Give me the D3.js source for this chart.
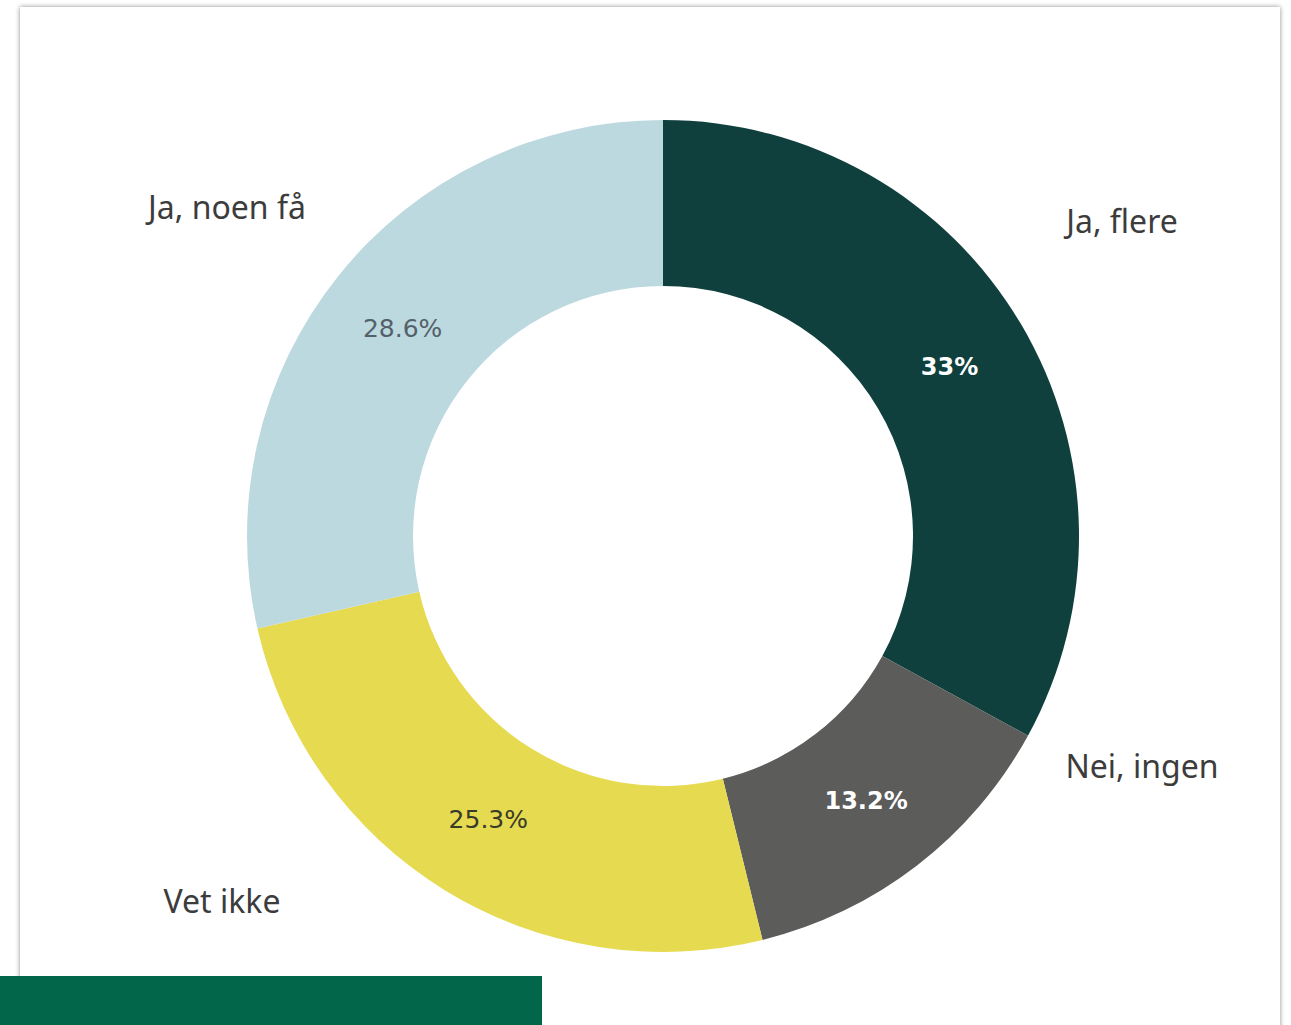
<!DOCTYPE html>
<html>
<head>
<meta charset="utf-8">
<script src="https://cdn.jsdelivr.net/npm/d3@7"></script>
<style>
  html, body { margin: 0; padding: 0; background: #fff; }
  #chart { position: relative; width: 1291px; height: 1025px; overflow: hidden; }
</style>
</head>
<body>
<div id="chart"></div>
<script>
// Survey answers (clockwise from 12 o'clock)
const categories = ["Ja, flere", "Nei, ingen", "Vet ikke", "Ja, noen få"];
const values = [33, 13.2, 25.3, 28.6];
const valueLabels = ["33%", "13.2%", "25.3%", "28.6%"];
const colors = ["#0f403d", "#5c5c5a", "#e6da50", "#bcd9e0"];
const valueTextColors = ["#ffffff", "#ffffff", "#3a3a2a", "#55606a"];

const width = 1291;
const height = 1025;
const cx = 663, cy = 536;
const outerR = 416, innerR = 250;

// category label anchors, relative to the centre (Excel style placement)
const labelOffsets = [[459, -314], [479, 231], [-441, 366], [-436, -328]];

const svg = d3.select("#chart")
    .append("svg")
    .attr("width", width)
    .attr("height", height)
    .attr("viewBox", [0, 0, width, height]);

// drop shadow for the card
const defs = svg.append("defs");
const shadow = defs.append("filter")
    .attr("id", "cardShadow")
    .attr("x", "-5%").attr("y", "-5%")
    .attr("width", "110%").attr("height", "110%");
shadow.append("feGaussianBlur").attr("in", "SourceAlpha").attr("stdDeviation", 2.5);
shadow.append("feOffset").attr("dx", 0).attr("dy", 0).attr("result", "blur");
shadow.append("feComponentTransfer").append("feFuncA").attr("type", "linear").attr("slope", 0.45);
const merge = shadow.append("feMerge");
merge.append("feMergeNode");
merge.append("feMergeNode").attr("in", "SourceGraphic");

svg.append("rect")
    .attr("x", 20)
    .attr("y", 7)
    .attr("width", 1260)
    .attr("height", 1100)
    .attr("fill", "#fff")
    .attr("filter", "url(#cardShadow)");

const pie = d3.pie()
    .sort(null)
    .value(d => d.value);

const data = categories.map((c, i) => ({
    name: c,
    value: values[i],
    label: valueLabels[i],
    color: colors[i],
    textColor: valueTextColors[i]
}));

const arcs = pie(data);

const arc = d3.arc()
    .innerRadius(innerR)
    .outerRadius(outerR);

const g = svg.append("g")
    .attr("transform", `translate(${cx},${cy})`);

g.selectAll("path")
    .data(arcs)
    .join("path")
    .attr("d", arc)
    .attr("fill", d => d.data.color);

// percentage labels in the middle of each ring segment
g.selectAll("text.value")
    .data(arcs)
    .join("text")
    .attr("class", "value")
    .attr("transform", d => `translate(${arc.centroid(d)})`)
    .attr("text-anchor", "middle")
    .attr("dy", "0.36em")
    .attr("fill", d => d.data.textColor)
    .style("font-family", "'DejaVu Sans', Verdana, sans-serif")
    .style("font-size", d => d.data.textColor === "#ffffff" ? "24px" : "25px")
    .style("font-weight", d => d.data.textColor === "#ffffff" ? "bold" : "normal")
    .text(d => d.data.label);

// category labels outside the ring
g.selectAll("text.cat")
    .data(arcs)
    .join("text")
    .attr("class", "cat")
    .attr("x", (d, i) => labelOffsets[i][0])
    .attr("y", (d, i) => labelOffsets[i][1])
    .attr("text-anchor", "middle")
    .attr("dy", "0.35em")
    .attr("fill", "#3c3c3c")
    .style("font-family", "'Noto Sans', sans-serif")
    .style("font-size", "32px")
    .text(d => d.data.name);

// green footer block
svg.append("rect")
    .attr("x", 0)
    .attr("y", 976)
    .attr("width", 542)
    .attr("height", 49)
    .attr("fill", "#02664a");
</script>
</body>
</html>
